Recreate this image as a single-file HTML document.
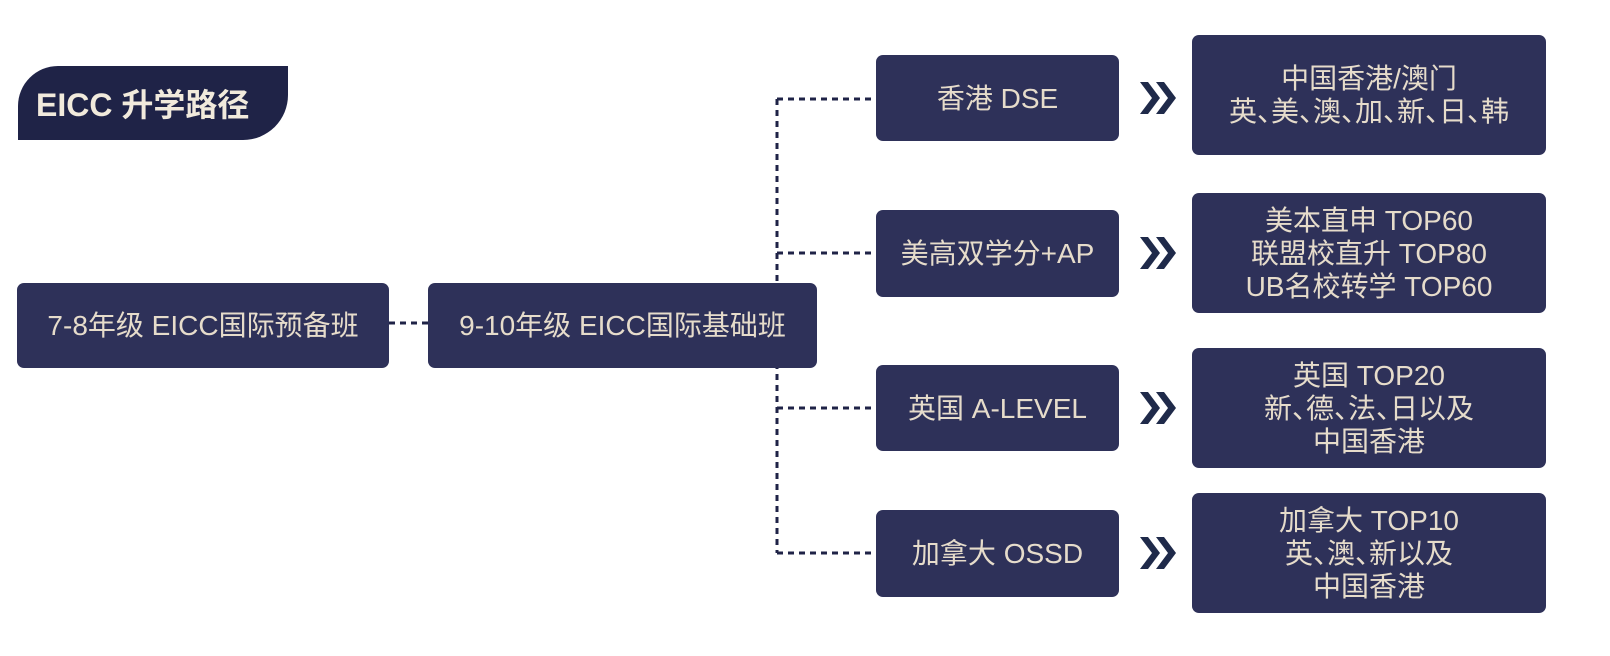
<!DOCTYPE html>
<html><head><meta charset="utf-8"><style>
body{margin:0;width:1610px;height:656px;background:#fff;position:relative;overflow:hidden;font-family:"Liberation Sans","Noto Sans CJK SC",sans-serif;}
.b{position:absolute;background:#2e3159;color:#e6dccb;border-radius:7px;display:flex;align-items:center;justify-content:center;text-align:center;font-size:28px;line-height:33px;white-space:nowrap;font-feature-settings:"halt";}
.t{position:absolute;left:18px;top:66px;width:270px;height:74px;background:#1f2347;border-radius:40px 0 45px 0;color:#f1eadc;font-size:32px;font-weight:bold;display:flex;align-items:center;padding-left:18px;box-sizing:border-box;}
</style></head><body>
<div class="t">EICC 升学路径</div>
<svg width="1610" height="656" style="position:absolute;left:0;top:0">
<g stroke="#1f2347" stroke-width="3" stroke-dasharray="6,5" fill="none">
<path d="M389 323H428"/>
<path d="M777 99V553"/>
<path d="M777 99H876M777 253H876M777 408H876M777 553H876"/>
</g>
<g fill="#1f2a4a">
<path d="M1140 82l12 16-12 16h8l12-16-12-16z"/><path d="M1156 82l12 16-12 16h8l12-16-12-16z"/>
<path d="M1140 237l12 16-12 16h8l12-16-12-16z"/><path d="M1156 237l12 16-12 16h8l12-16-12-16z"/>
<path d="M1140 392l12 16-12 16h8l12-16-12-16z"/><path d="M1156 392l12 16-12 16h8l12-16-12-16z"/>
<path d="M1140 537l12 16-12 16h8l12-16-12-16z"/><path d="M1156 537l12 16-12 16h8l12-16-12-16z"/>
</g>
</svg>
<div class="b" style="left:17px;top:283px;width:372px;height:85px">7-8年级 EICC国际预备班</div>
<div class="b" style="left:428px;top:283px;width:389px;height:85px">9-10年级 EICC国际基础班</div>
<div class="b" style="left:876px;top:55px;width:243px;height:86px">香港 DSE</div>
<div class="b" style="left:876px;top:210px;width:243px;height:87px">美高双学分+AP</div>
<div class="b" style="left:876px;top:365px;width:243px;height:86px">英国 A-LEVEL</div>
<div class="b" style="left:876px;top:510px;width:243px;height:87px">加拿大 OSSD</div>
<div class="b" style="left:1192px;top:35px;width:354px;height:120px">中国香港/澳门<br>英、美、澳、加、新、日、韩</div>
<div class="b" style="left:1192px;top:193px;width:354px;height:120px">美本直申 TOP60<br>联盟校直升 TOP80<br>UB名校转学 TOP60</div>
<div class="b" style="left:1192px;top:348px;width:354px;height:120px">英国 TOP20<br>新、德、法、日以及<br>中国香港</div>
<div class="b" style="left:1192px;top:493px;width:354px;height:120px">加拿大 TOP10<br>英、澳、新以及<br>中国香港</div>
</body></html>
